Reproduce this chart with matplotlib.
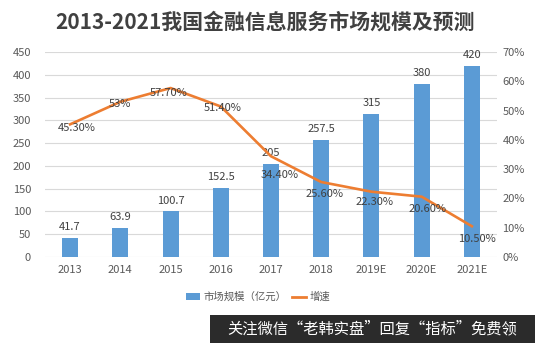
import matplotlib
matplotlib.use("Agg")
import matplotlib.pyplot as plt
from matplotlib.patches import Rectangle, Patch
from matplotlib.lines import Line2D
import numpy as np

plt.rcParams['font.family'] = ['Noto Sans CJK SC', 'DejaVu Sans']

years = ["2013", "2014", "2015", "2016", "2017", "2018", "2019E", "2020E", "2021E"]
market = [41.7, 63.9, 100.7, 152.5, 205, 257.5, 315, 380, 420]
market_labels = ["41.7", "63.9", "100.7", "152.5", "205", "257.5", "315", "380", "420"]
growth = [45.3, 53, 57.7, 51.4, 34.4, 25.6, 22.3, 20.6, 10.5]
growth_labels = ["45.30%", "53%", "57.70%", "51.40%", "34.40%", "25.60%", "22.30%", "20.60%", "10.50%"]

title = "2013-2021我国金融信息服务市场规模及预测"
legend_bar = "市场规模（亿元）"
legend_line = "增速"
watermark = "关注微信“老韩实盘”回复“指标”免费领"

bar_color = "#5B9BD5"
line_color = "#ED7D31"
tick_color = "#595959"
label_color = "#404040"

W, H = 535, 343
fig = plt.figure(figsize=(W / 100, H / 100), dpi=100)
fig.patch.set_facecolor("white")
ax = fig.add_axes([45 / W, 1 - 257 / H, (497 - 45) / W, (257 - 52) / H])
ax2 = ax.twinx()

x = np.arange(len(years))
ax.bar(x, market, width=0.32, color=bar_color, zorder=2)
ax.set_xlim(-0.5, len(years) - 0.5)
ax.set_ylim(0, 450)
ax.set_yticks(np.arange(0, 451, 50))
ax.grid(axis="y", color="#d9d9d9", linewidth=0.8, zorder=0)
ax.set_axisbelow(True)
ax.set_xticks(x)
ax.set_xticklabels(years)
for a in (ax, ax2):
    for s in a.spines.values():
        s.set_visible(False)
    a.tick_params(length=0, colors=tick_color, labelsize=8)
ax.tick_params(axis="x", pad=6)
ax.tick_params(axis="y", pad=10)
ax2.tick_params(axis="y", pad=4)

for xi, v, lab in zip(x, market, market_labels):
    ax.annotate(lab, (xi, v), xytext=(0, 4), textcoords="offset points",
                ha="center", va="bottom", fontsize=8, color=label_color)

ax2.plot(x, growth, color=line_color, linewidth=1.9, zorder=3)
ax2.set_ylim(0, 70)
ax2.set_yticks(np.arange(0, 71, 10))
ax2.set_yticklabels([f"{t}%" for t in range(0, 71, 10)])

offsets = [(7, -4), (0, -2), (-2, -5), (2, -2), (9, -19), (3, -12), (3, -10), (6, -12), (5, -13)]
for xi, v, lab, (dx, dy) in zip(x, growth, growth_labels, offsets):
    ax2.annotate(lab, (xi, v), xytext=(dx, dy), textcoords="offset pixels",
                 ha="center", va="center", fontsize=8, color=label_color, zorder=4)

fig.text(265 / W, 1 - 22 / H, title, ha="center", va="center", fontsize=15,
         fontweight="bold", color="#404040")

handles = [Patch(facecolor=bar_color, edgecolor="none"),
           Line2D([0], [0], color=line_color, linewidth=2)]
fig.legend(handles, [legend_bar, legend_line], loc="center",
           bbox_to_anchor=(258 / W, 1 - 297 / H), ncol=2, frameon=False,
           fontsize=7.5, handlelength=1.4, handleheight=0.7, columnspacing=0.5,
           handletextpad=0.3, labelcolor=tick_color)

fig.patches.append(Rectangle((210 / W, 0), 1 - 210 / W, 28 / H, transform=fig.transFigure,
                             facecolor="#2b2b2b", edgecolor="none", zorder=5))
fig.text(372 / W, 1 - 329 / H, watermark, ha="center", va="center", fontsize=11,
         color="white", zorder=6)

fig.savefig("out.png", dpi=100)
